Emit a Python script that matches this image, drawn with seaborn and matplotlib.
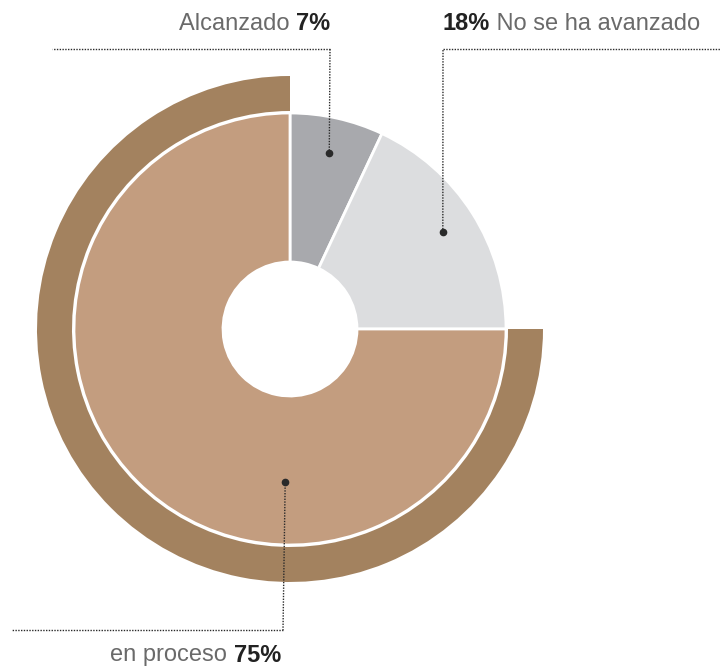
import numpy as np
import seaborn as sns
import matplotlib.pyplot as plt

labels = ["Alcanzado", "No se ha avanzado", "en proceso"]
values = [7, 18, 75]
pct_text = ["7%", "18%", "75%"]

slice_colors = ["#a8a9ad", "#dcdddf", "#c39d7f"]
ring_color = "#a3825f"

sns.set_theme(style="white")
plt.rcParams['font.family'] = ['Liberation Sans', 'DejaVu Sans']

W, H = 720, 666
fig = plt.figure(figsize=(W / 100, H / 100), dpi=100)
ax = fig.add_axes([0, 0, 1, 1])


def Y(py):
    return H - py


cx, cy = 290, Y(329)
r_out, r_hole = 216, 67
r_ring = 253

# main donut
wedges, _ = ax.pie(values, radius=r_out, center=(cx, cy), startangle=90,
                   counterclock=False, colors=slice_colors,
                   wedgeprops=dict(width=r_out - r_hole, edgecolor="white", linewidth=2))

# outer ring only around "en proceso"
ring, _ = ax.pie(values, radius=r_ring, center=(cx, cy), startangle=90,
                 counterclock=False, colors=[ring_color] * 3,
                 wedgeprops=dict(width=r_ring - r_out - 2, edgecolor="white", linewidth=0))
for w in ring[:2]:
    w.set_visible(False)

ax.set_xlim(0, W)
ax.set_ylim(0, H)
ax.set_aspect("equal")
ax.axis("off")

# leader lines: dot position (fraction along slice, radius), elbow, label anchor
leaders = [
    dict(frac=0.5, r=180, line=[(330, 49), (52, 49)], text=(330, 24), side="pre"),
    dict(frac=0.5, r=181, line=[(443, 49), (720, 49)], text=(443, 24), side="post"),
    dict(frac=0.34, r=153, line=[(283, 630), (12, 630)], text=(281, 655), side="pre"),
]

cum = np.cumsum([0] + values)
total = sum(values)
lc = "#2a2a2a"
renderer = fig.canvas.get_renderer()
light = dict(family=["Liberation Sans"], weight="normal", color="#6a6a6a", fontsize=17)
bold = dict(family=["Liberation Sans"], weight="bold", color="#222222", fontsize=17)

for i, ld in enumerate(leaders):
    a0 = 90 - 360 * cum[i] / total
    a1 = 90 - 360 * cum[i + 1] / total
    ang = np.radians(a0 + (a1 - a0) * ld["frac"])
    dx, dy = cx + ld["r"] * np.cos(ang), cy + ld["r"] * np.sin(ang)
    ex, ey = ld["line"][0]
    ax.plot([dx, ex], [dy, Y(ey)], color=lc, lw=1, ls=(0, (1, 1)))
    ax.plot([ld["line"][0][0], ld["line"][1][0]], [Y(ey), Y(ey)], color=lc, lw=1, ls=(0, (1, 1)))
    ax.plot(dx, dy, "o", color=lc, ms=4.5)

    tx, ty = ld["text"]
    if ld["side"] == "pre":
        t1 = ax.text(tx, Y(ty), pct_text[i], ha="right", va="center", **bold)
        bb = t1.get_window_extent(renderer)
        ax.text(bb.x0, Y(ty), labels[i] + " ", ha="right", va="center", **light)
    else:
        t1 = ax.text(tx, Y(ty), pct_text[i], ha="left", va="center", **bold)
        bb = t1.get_window_extent(renderer)
        ax.text(bb.x1, Y(ty), " " + labels[i], ha="left", va="center", **light)

fig.savefig("out.png", dpi=100, facecolor="white")
